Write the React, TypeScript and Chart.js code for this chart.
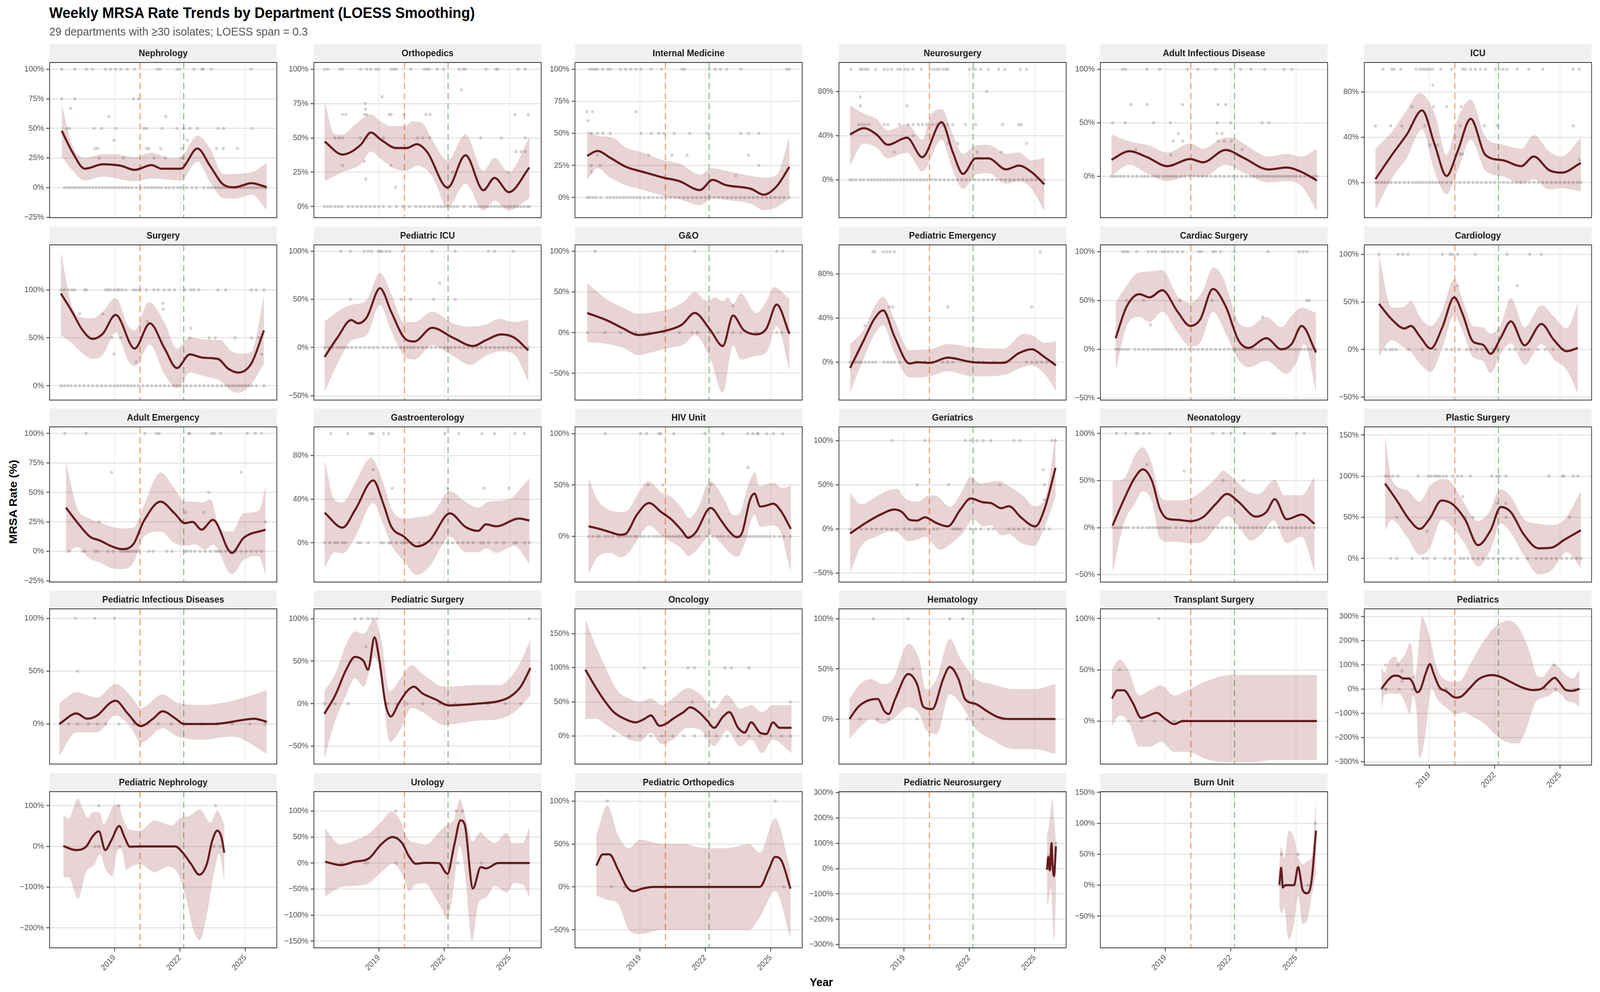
import React, { useEffect, useRef, useState } from "react";
import { Chart, registerables } from "chart.js";

Chart.register(...registerables);

// ---------------- DATA ----------------
const DEPARTMENTS = [
  "Nephrology", "Orthopedics", "Internal Medicine", "Neurosurgery", "Adult Infectious Disease", "ICU",
  "Surgery", "Pediatric ICU", "G&O", "Pediatric Emergency", "Cardiac Surgery", "Cardiology",
  "Adult Emergency", "Gastroenterology", "HIV Unit", "Geriatrics", "Neonatology", "Plastic Surgery",
  "Pediatric Infectious Diseases", "Pediatric Surgery", "Oncology", "Hematology", "Transplant Surgery", "Pediatrics",
  "Pediatric Nephrology", "Urology", "Pediatric Orthopedics", "Pediatric Neurosurgery", "Burn Unit",
];

const X_RANGE = [2016.02, 2026.44];
const X_TICKS = [2019, 2022, 2025];
const EVENT_LINES = [2020.17, 2022.17];

const Y_RANGE = [
  [-25.4, 105.7], [-8.1, 104.9], [-15.7, 105.3], [-34.3, 106.2], [-38.7, 106.4], [-31.2, 106],
  [-14.9, 146.9], [-54.6, 106.7], [-83, 108], [-34.3, 106.2], [-51.9, 106.9], [-53.1, 109.9],
  [-26.1, 105.6], [-36, 106.2], [-44.4, 106.6], [-60.1, 115.5], [-57.8, 107], [-28.7, 159.9],
  [-38, 109], [-71, 111.5], [-41, 186], [-45, 110], [-42, 109.5], [-313.5, 331.6],
  [-249, 134.4], [-162.9, 137.2], [-71, 111], [-313, 304], [-101.2, 151.2],
];

const Y_TICKS = [
  [-25, 0, 25, 50, 75, 100], [0, 25, 50, 75, 100], [0, 25, 50, 75, 100], [0, 40, 80], [0, 50, 100], [0, 40, 80],
  [0, 50, 100], [-50, 0, 50, 100], [-50, 0, 50, 100], [0, 40, 80], [-50, 0, 50, 100], [-50, 0, 50, 100],
  [-25, 0, 25, 50, 75, 100], [0, 40, 80], [0, 50, 100], [-50, 0, 50, 100], [-50, 0, 50, 100], [0, 50, 100, 150],
  [0, 50, 100], [-50, 0, 50, 100], [0, 50, 100, 150], [0, 50, 100], [0, 50, 100], [-300, -200, -100, 0, 100, 200, 300],
  [-200, -100, 0, 100], [-150, -100, -50, 0, 50, 100], [-50, 0, 50, 100], [-300, -200, -100, 0, 100, 200, 300], [-50, 0, 50, 100, 150],
];

const FIT = [
  [[2016.58,48],[2017.05,30.5],[2017.64,16],[2018.46,19.7],[2019.28,18.5],[2019.92,15],[2020.69,19],[2021.16,16],[2022.03,16],[2022.80,33],[2023.39,18],[2023.98,2.7],[2024.52,0.3],[2025.27,3.8],[2025.97,0.5]],
  [[2016.51,47.3],[2017.33,37.9],[2018.16,44.9],[2018.63,53.9],[2019.09,48.7],[2019.80,42.6],[2020.27,42.6],[2020.74,45.4],[2021.21,39.8],[2022.15,13.8],[2022.97,37.4],[2023.79,11.9],[2024.30,20.9],[2024.96,10.5],[2025.90,28.4]],
  [[2016.58,32.5],[2017.05,36.3],[2017.64,31],[2018.34,24.1],[2019.16,19.9],[2020.10,15.4],[2020.81,12.8],[2021.75,5.8],[2022.33,13.8],[2022.92,9.8],[2024.09,6.8],[2024.68,2.2],[2025.27,8.8],[2025.85,23.9]],
  [[2016.53,41.1],[2017.16,46.7],[2017.74,41.1],[2018.26,31.7],[2019.14,38.1],[2019.84,20.5],[2020.73,52.2],[2021.24,25],[2021.71,5.3],[2022.29,19.4],[2022.87,19.4],[2023.69,9.4],[2024.27,12.9],[2024.85,7],[2025.44,-4.1]],
  [[2016.53,15.5],[2017.35,23.4],[2018.16,17.9],[2019.09,9.5],[2020.14,16.1],[2020.72,13.1],[2021.77,24.6],[2022.58,17.3],[2023.74,6.4],[2024.56,8.2],[2025.25,4],[2025.95,-3.9]],
  [[2016.53,2.9],[2017.28,24.1],[2017.97,42.4],[2018.67,63.6],[2019.25,33.2],[2019.79,5.7],[2020.30,27.5],[2020.90,56.2],[2021.58,24.1],[2022.39,19.5],[2023.21,14.3],[2023.79,22.9],[2024.49,10.9],[2025.07,8.6],[2025.95,17.2]],
  [[2016.54,96.2],[2017.05,77.3],[2017.52,58.4],[2017.99,48.9],[2018.46,54.3],[2019.05,73.9],[2019.92,38.8],[2020.62,65.1],[2021.28,39.5],[2021.86,18.5],[2022.45,32.7],[2023.04,29.3],[2023.74,28],[2024.21,17.8],[2024.68,13.8],[2025.27,23.2],[2025.85,57.7]],
  [[2016.51,-9.8],[2017.10,10.4],[2017.73,28.6],[2018.04,25.2],[2018.44,31.3],[2019.05,61.6],[2019.56,37.3],[2020.15,10.4],[2020.62,6.3],[2021.44,20.5],[2022.38,10.4],[2023.32,1.6],[2023.91,7.7],[2024.61,13.7],[2025.20,10.4],[2025.85,-3]],
  [[2016.58,24.2],[2017.52,14.7],[2018.23,5.1],[2018.93,-2.9],[2019.63,-0.5],[2020.34,3.5],[2020.93,9.9],[2021.51,24.2],[2022.22,3.5],[2022.80,-16.4],[2023.27,21.1],[2023.74,3.5],[2024.33,-2.1],[2024.80,5.1],[2025.27,34.6],[2025.85,-1.3]],
  [[2016.53,-5.3],[2017.16,19.9],[2017.63,38.7],[2018.05,46.9],[2018.56,23.5],[2019.26,-1.2],[2019.61,0],[2020.19,-0.6],[2021.01,4.1],[2022.17,0],[2023.57,-0.6],[2024.27,8.2],[2024.85,11.7],[2025.44,4.7],[2025.97,-2.9]],
  [[2016.72,11.4],[2017.23,43.9],[2017.81,56.5],[2018.28,53.2],[2018.86,60.5],[2019.56,38.6],[2020.14,24],[2020.60,30.6],[2021.18,61.8],[2021.77,43.9],[2022.35,9.4],[2022.81,1.5],[2023.63,11.4],[2024.32,0.1],[2024.79,5.4],[2025.25,24],[2025.91,-3.2]],
  [[2016.69,48],[2017.28,31.6],[2017.86,22.1],[2018.16,24.8],[2018.56,13.9],[2019.07,1],[2019.60,23.4],[2020.14,54.8],[2020.53,37.1],[2021.00,8.4],[2021.46,5],[2021.81,-4.5],[2022.28,12.5],[2022.74,29.6],[2023.37,4.4],[2024.14,26.8],[2024.72,9.8],[2025.30,-1.8],[2025.81,1.6]],
  [[2016.77,37.1],[2017.29,24.5],[2017.87,12.4],[2018.34,9.1],[2018.81,4.7],[2019.33,1.9],[2019.87,6.3],[2020.34,25.6],[2021.11,42.1],[2021.75,32.2],[2022.22,23.9],[2022.57,25],[2022.99,18.4],[2023.51,26.7],[2024.38,-1.4],[2024.91,11.3],[2025.92,18.4]],
  [[2016.51,27.5],[2017.33,13.9],[2017.92,30.5],[2018.74,57.2],[2019.21,35.3],[2019.56,15.1],[2020.15,5.6],[2020.74,-3.3],[2021.32,2],[2022.26,26.9],[2022.97,14.5],[2023.55,10.9],[2023.91,16.9],[2024.38,15.1],[2025.43,22.2],[2025.90,20.4]],
  [[2016.64,9.9],[2017.15,7.3],[2017.66,4],[2018.09,1.6],[2018.35,2.6],[2018.86,21.2],[2019.42,32.5],[2019.97,23.8],[2020.44,16.6],[2020.91,6],[2021.21,-1.3],[2021.56,4],[2022.24,27.8],[2022.75,14.6],[2023.05,6],[2023.44,-0.7],[2023.69,4],[2024.04,35.1],[2024.25,41.7],[2024.51,29.1],[2024.76,29.8],[2025.11,31.8],[2025.45,25.2],[2025.92,7.3]],
  [[2016.53,-5.1],[2017.28,7.3],[2017.98,16.9],[2018.56,22],[2018.91,19.1],[2019.26,10.3],[2019.61,9.5],[2019.96,13.2],[2020.50,6.6],[2021.01,2.9],[2021.59,22],[2022.06,34.5],[2022.64,30.1],[2022.99,29.3],[2023.46,23.5],[2023.81,25.7],[2024.39,12.5],[2025.02,2.9],[2025.44,22],[2025.95,69.2]],
  [[2016.58,2.1],[2017.11,30.3],[2017.58,52.3],[2017.97,61.9],[2018.39,49.5],[2018.74,20.6],[2019.09,9.6],[2019.56,8.3],[2020.14,6.9],[2020.72,11],[2021.30,24.8],[2021.83,35.8],[2022.35,27.5],[2023.16,11.7],[2023.63,16.5],[2024.02,30.3],[2024.56,8.9],[2025.25,13.8],[2025.84,4.1]],
  [[2016.97,91],[2017.51,70.5],[2018.09,46.9],[2018.56,35.9],[2019.02,48.5],[2019.56,70.5],[2020.07,65.8],[2020.65,46.9],[2021.23,16.2],[2021.81,34.3],[2022.28,62.6],[2022.74,56.3],[2023.32,29.6],[2024.02,12.3],[2024.60,13.1],[2025.18,22.5],[2025.95,34.3]],
  [[2016.47,0],[2017.26,10],[2017.73,5],[2018.2,8],[2018.8,20],[2019.05,22],[2019.6,10],[2020.2,-2],[2020.77,5],[2021.2,12],[2021.8,5],[2022.17,0],[2023.56,0],[2024.96,4],[2025.4,5],[2025.98,2]],
  [[2016.5,-12],[2017.0,10],[2017.5,40],[2017.9,55],[2018.3,50],[2018.5,40],[2018.8,78],[2019.0,55],[2019.3,0],[2019.55,-15],[2019.9,0],[2020.3,15],[2020.6,20],[2021.0,12],[2021.6,5],[2022.2,-2],[2023.5,0],[2024.5,3],[2025.0,8],[2025.5,20],[2025.95,42]],
  [[2016.5,97],[2016.9,75],[2017.3,55],[2017.8,35],[2018.3,25],[2018.8,20],[2019.2,25],[2019.5,30],[2019.9,15],[2020.2,18],[2020.5,25],[2021.0,35],[2021.3,42],[2021.7,35],[2022.1,22],[2022.4,12],[2022.8,28],[2023.1,35],[2023.5,12],[2023.8,5],[2024.1,20],[2024.5,5],[2024.8,3],[2025.1,20],[2025.4,12],[2025.95,12]],
  [[2016.5,0],[2016.9,12],[2017.3,18],[2017.8,20],[2018.1,8],[2018.3,5],[2018.6,20],[2019.2,45],[2019.6,35],[2019.9,12],[2020.3,10],[2020.8,40],[2021.1,52],[2021.5,40],[2021.8,20],[2022.3,15],[2022.8,8],[2023.3,2],[2023.8,0],[2025.95,0]],
  [[2016.55,22],[2016.8,30],[2017.1,30],[2017.5,18],[2017.9,3],[2018.2,5],[2018.6,8],[2019.0,2],[2019.4,-3],[2019.8,0],[2025.95,0]],
  [[2016.81,1.7],[2017.12,38.4],[2017.38,55.4],[2017.55,55.4],[2017.81,44],[2018.07,44],[2018.24,27.1],[2018.44,-12.4],[2018.58,-4],[2018.84,66.7],[2019.03,103.4],[2019.19,66.7],[2019.45,10.2],[2019.79,-9.6],[2020.22,-35],[2020.48,-29.4],[2020.83,1.7],[2021.26,41.2],[2021.86,58.2],[2022.30,49.7],[2022.73,29.9],[2023.25,7.3],[2023.76,-4],[2024.20,4.5],[2024.45,27.1],[2024.76,46.9],[2024.97,27.1],[2025.27,-4],[2025.58,-6.8],[2025.88,1.7]],
  [[2016.65,1],[2017.21,-8.9],[2017.69,-0.7],[2018.01,25.6],[2018.28,37],[2018.57,-8.9],[2018.86,15.7],[2019.21,50.2],[2019.46,22.3],[2019.70,-0.7],[2020.18,0],[2021.78,0],[2022.10,-13.8],[2022.51,-43.3],[2022.88,-69.5],[2023.23,-43.3],[2023.47,12.5],[2023.71,38.7],[2023.90,22.3],[2024.03,-15.4]],
  [[2016.53,2.6],[2017.25,-3.9],[2017.88,2.6],[2018.54,9],[2019.10,35.9],[2019.63,50],[2020.06,38.5],[2020.38,12.8],[2020.70,-1.3],[2021.10,0.5],[2021.74,0],[2022.14,-20.5],[2022.46,35.9],[2022.74,82.1],[2022.94,73.2],[2023.31,-48.8],[2023.67,-7.7],[2023.91,-10.3],[2024.47,0],[2025.91,0]],
  [[2017.0,25],[2017.3,38],[2017.6,38],[2018.0,20],[2018.4,0],[2018.7,-5],[2019.1,-2],[2019.6,0],[2024.5,0],[2024.9,20],[2025.2,35],[2025.5,30],[2025.9,-2]],
  [[2025.56,-3.5],[2025.62,45.6],[2025.69,-6.3],[2025.77,100.4],[2025.81,22.5],[2025.88,-29.4],[2025.97,88.9]],
  [[2024.23,1.2],[2024.31,28.2],[2024.39,-3.5],[2024.50,0],[2024.90,0],[2025.09,29.4],[2025.30,-8.2],[2025.51,-12.9],[2025.70,5.9],[2025.91,88.2]],
];

const UPPER = [
  [[2016.58,70],[2017.05,36],[2017.64,25],[2018.10,27],[2018.46,28.4],[2019.16,28],[2019.92,25.7],[2020.69,29.5],[2021.51,25],[2022.03,26],[2022.80,44],[2023.39,32.8],[2023.98,11.4],[2025.27,13],[2025.97,20.8]],
  [[2016.51,76.6],[2016.98,52.5],[2017.33,52.5],[2017.92,60],[2018.63,67.1],[2019.09,61.9],[2019.56,58.6],[2020.27,59.1],[2020.50,62],[2020.97,61],[2021.44,48.7],[2022.15,33.6],[2022.97,52.5],[2023.79,26],[2024.30,35.5],[2024.96,25.1],[2025.90,50.6]],
  [[2016.58,52.2],[2017.05,48.2],[2017.76,46.7],[2018.34,39.1],[2019.16,35],[2020.10,29],[2020.81,26.5],[2021.75,17.9],[2022.33,22.9],[2022.92,20.9],[2024.09,16.9],[2024.68,15.4],[2025.27,17.9],[2025.85,47.2]],
  [[2016.53,67.4],[2017.16,59.8],[2017.74,55.1],[2018.26,44.6],[2019.14,50.4],[2019.84,36.4],[2020.26,59.8],[2020.73,63.9],[2021.24,41.1],[2021.71,23.5],[2022.29,31.1],[2022.87,31.7],[2023.69,23.5],[2024.27,24.6],[2024.85,17.6],[2025.44,20]],
  [[2016.53,39.2],[2017.46,31.9],[2018.16,29.5],[2019.09,22.2],[2020.14,30.7],[2020.72,25.8],[2021.77,36.1],[2022.11,36.1],[2022.58,30.7],[2023.74,18.5],[2024.56,21],[2025.25,18.5],[2025.95,25.8]],
  [[2016.53,29.8],[2017.28,44.7],[2017.97,64.2],[2018.56,79.1],[2019.25,60.7],[2019.79,24.1],[2020.30,56.2],[2020.90,73.4],[2021.58,40.1],[2022.39,33.2],[2023.21,29.8],[2023.79,41.8],[2024.49,27.5],[2025.07,22.9],[2025.95,39.5]],
  [[2016.54,139.5],[2017.05,82.7],[2017.52,71.2],[2017.99,70.5],[2018.46,77.3],[2019.05,91.5],[2019.63,62.4],[2019.92,57.7],[2020.57,87.4],[2021.28,66.5],[2021.86,38.8],[2022.45,50.3],[2023.15,48.2],[2023.86,47.6],[2024.33,36.8],[2024.80,33.4],[2025.27,35.4],[2025.85,93.5]],
  [[2016.51,27.2],[2017.10,37.3],[2017.69,44.1],[2018.44,49.5],[2019.05,77.8],[2019.56,56.2],[2020.15,26.5],[2020.62,26.5],[2021.44,37.3],[2022.38,25.2],[2023.08,21.8],[2023.91,23.9],[2024.49,29.9],[2025.20,26.5],[2025.85,29.2]],
  [[2016.58,60.9],[2017.52,40.2],[2018.23,30.6],[2018.93,23.4],[2019.63,25],[2020.34,29],[2021.04,38.6],[2021.51,49.8],[2022.10,38.6],[2022.45,43.4],[2022.80,38.6],[2023.04,43.4],[2023.27,35.4],[2023.62,48.2],[2024.33,24.2],[2024.80,38.6],[2025.15,56.1],[2025.85,41.8]],
  [[2016.53,16.4],[2017.16,29.3],[2017.63,49.3],[2018.05,59.2],[2018.56,38.7],[2019.26,11.1],[2020.19,11.7],[2021.01,16.4],[2022.17,13.5],[2023.57,12.3],[2024.50,25.8],[2024.97,23.5],[2025.44,17.6],[2025.97,18.8]],
  [[2016.72,47.9],[2017.23,65.1],[2017.69,77.7],[2018.28,79.7],[2018.86,81],[2019.56,54.5],[2020.14,47.9],[2020.72,59.8],[2021.18,83.7],[2021.65,73.1],[2022.35,28],[2022.81,22.7],[2023.63,33.3],[2024.32,22.7],[2024.79,34.6],[2025.25,42.6],[2025.91,37.3]],
  [[2016.69,99.7],[2017.28,43.9],[2017.86,45.2],[2018.16,50.7],[2018.56,34.3],[2019.07,24.8],[2019.60,41.1],[2020.14,73.8],[2020.53,52],[2021.00,24.8],[2021.46,23.4],[2021.81,16.6],[2022.28,26.2],[2022.74,54.1],[2023.37,23.4],[2024.14,46.6],[2024.72,34.3],[2025.30,22.1],[2025.81,48.6]],
  [[2016.77,76.1],[2017.29,36.6],[2017.87,27.8],[2018.34,24.5],[2018.81,21.2],[2019.33,19.5],[2019.87,20.1],[2020.34,38.8],[2021.11,66.8],[2021.75,53.1],[2022.22,42.1],[2022.57,42.1],[2023.04,41.5],[2023.39,44.3],[2023.86,17.9],[2024.38,16.8],[2024.91,32.2],[2025.62,34.4],[2025.92,55.3]],
  [[2016.51,75.6],[2016.98,38.8],[2017.33,37],[2017.92,55.4],[2018.63,78],[2019.21,54.2],[2019.56,31.7],[2020.15,22.2],[2020.74,23.4],[2021.44,26.9],[2022.26,47.1],[2022.97,37.6],[2023.55,32.3],[2024.02,37.6],[2024.96,40],[2025.90,59]],
  [[2016.64,57],[2016.98,38.4],[2017.32,29.1],[2018.09,23.8],[2018.43,25.2],[2018.86,39.7],[2019.37,53.6],[2019.97,43],[2020.44,38.4],[2020.91,27.8],[2021.26,17.9],[2021.60,25.2],[2022.24,53.6],[2022.80,38.4],[2023.31,20.5],[2023.57,22.5],[2023.99,51.7],[2024.29,62.3],[2024.46,49],[2025.11,52.3],[2025.53,47],[2025.92,49.7]],
  [[2016.53,40.3],[2017.05,27.9],[2017.74,36.7],[2018.33,44],[2018.68,45.5],[2019.03,35.2],[2019.61,30.8],[2020.19,38.1],[2020.54,36.7],[2021.12,24.9],[2021.59,39.6],[2022.06,58.7],[2022.52,51.3],[2022.87,52.8],[2023.34,54.3],[2023.81,48.4],[2024.50,36.7],[2024.97,25.7],[2025.44,32.3],[2025.95,105.6]],
  [[2016.58,49.5],[2017.11,52.3],[2017.58,75.7],[2017.97,85.3],[2018.39,67.4],[2018.74,34.4],[2019.09,28.9],[2019.56,28.9],[2020.14,30.9],[2020.72,39.9],[2021.30,52.3],[2021.65,60.5],[2022.11,52.3],[2022.81,38.5],[2023.28,35.8],[2024.02,50.9],[2024.44,34.4],[2025.25,34.4],[2025.84,54.3]],
  [[2016.97,149.2],[2017.28,95.7],[2017.97,83.1],[2018.56,68.9],[2019.02,87.8],[2019.60,96.5],[2019.95,94.1],[2020.53,70.5],[2021.23,45.3],[2021.70,54.8],[2022.28,83.9],[2022.74,75.2],[2023.32,48.5],[2024.02,42.2],[2024.60,40.6],[2025.18,46.9],[2025.95,81.5]],
  [[2016.47,20],[2017.26,30],[2018.2,25],[2019.05,38],[2019.8,25],[2020.2,15],[2021.2,28],[2021.9,20],[2023.0,18],[2024.4,22],[2025.98,32]],
  [[2016.5,15],[2017.0,35],[2017.5,70],[2017.9,85],[2018.3,82],[2018.8,100],[2019.1,75],[2019.5,15],[2020.0,30],[2020.5,45],[2021.0,35],[2022.0,20],[2023.5,22],[2024.5,22],[2025.3,40],[2025.95,75]],
  [[2016.5,170],[2017.0,130],[2017.5,95],[2018.0,65],[2018.5,55],[2019.0,50],[2019.5,55],[2020.0,45],[2020.5,55],[2021.2,70],[2021.8,60],[2022.4,40],[2023.0,60],[2023.6,40],[2024.1,45],[2024.6,35],[2025.1,45],[2025.95,45]],
  [[2016.5,20],[2017.0,35],[2017.5,40],[2018.0,35],[2018.5,40],[2019.2,75],[2019.7,60],[2020.0,30],[2020.5,40],[2021.1,80],[2021.6,60],[2022.3,40],[2023.0,35],[2024.0,30],[2025.0,30],[2025.95,35]],
  [[2016.55,50],[2016.9,60],[2017.3,50],[2017.8,25],[2018.3,30],[2018.8,35],[2019.4,25],[2020.0,30],[2021.0,40],[2022.0,45],[2023.0,45],[2024.0,45],[2025.95,45]],
  [[2016.81,86.4],[2016.94,69.5],[2017.16,117.5],[2017.46,134.5],[2017.59,111.9],[2017.76,128.8],[2017.94,151.4],[2018.09,191],[2018.20,168.4],[2018.32,38.4],[2018.45,111.9],[2018.67,298.3],[2018.84,270],[2019.06,202.2],[2019.27,111.9],[2019.62,46.9],[2020.22,29.9],[2020.48,38.4],[2020.83,94.9],[2021.43,191],[2022.04,258.8],[2022.64,284.2],[2023.07,258.8],[2023.59,157.1],[2023.94,55.4],[2024.20,49.7],[2024.45,78],[2024.71,103.4],[2024.89,94.9],[2025.23,61],[2025.58,44],[2025.88,80.8]],
  [[2016.65,76.4],[2016.89,68.2],[2017.32,117.4],[2017.53,94.4],[2017.77,69.8],[2018.01,84.6],[2018.33,83],[2018.49,55.1],[2018.73,74.8],[2018.97,101],[2019.18,102.6],[2019.38,68.2],[2019.70,40.3],[2020.18,38.7],[2020.82,63.3],[2021.62,51.8],[2022.02,69.8],[2022.43,74.8],[2022.91,91.1],[2023.39,58.4],[2023.71,87.9],[2024.03,53.4]],
  [[2016.53,65.5],[2017.25,35.9],[2017.90,43.6],[2018.54,56.5],[2019.10,79.6],[2019.58,98.9],[2019.98,82.1],[2020.30,48.8],[2020.78,38.5],[2021.18,35.9],[2021.74,59],[2022.14,74.4],[2022.46,84.7],[2022.70,123.2],[2023.02,79.6],[2023.27,41.1],[2023.67,59],[2023.91,48.8],[2024.31,38.5],[2024.87,57.8],[2025.11,38.5],[2025.59,38.5],[2025.91,69.3]],
  [[2017.0,60],[2017.5,95],[2018.0,60],[2018.5,45],[2019.0,55],[2020.0,50],[2021.0,50],[2022.0,45],[2023.0,45],[2024.0,50],[2024.5,40],[2025.2,80],[2025.9,20]],
  [[2025.56,132],[2025.65,167],[2025.75,248],[2025.81,276],[2025.88,201],[2025.97,103]],
  [[2024.23,34.1],[2024.31,62.4],[2024.45,43.5],[2024.66,88.2],[2024.90,76.5],[2025.09,45.9],[2025.30,34.1],[2025.51,38.8],[2025.70,45.9],[2025.91,137.6]],
];

const LOWER = [
  [[2016.58,26],[2017.05,15],[2017.64,6],[2018.46,9.3],[2019.92,5.4],[2020.69,7.6],[2022.03,6],[2022.80,22],[2023.39,4.3],[2023.98,-8.8],[2024.52,-9.4],[2025.27,-6],[2025.97,-18.7]],
  [[2016.51,18.5],[2017.33,25.1],[2018.16,30.8],[2018.63,40.2],[2019.09,34.6],[2019.80,27],[2020.27,26],[2020.74,29.8],[2021.44,22.3],[2022.15,-0.4],[2022.97,16.6],[2023.79,-2.8],[2024.30,4.3],[2024.96,-2.8],[2025.90,6.2]],
  [[2016.58,13.8],[2017.05,22.9],[2017.64,15.4],[2018.34,9.8],[2019.16,5.8],[2020.10,1.2],[2020.81,-1.3],[2021.75,-5.9],[2022.33,-0.3],[2022.92,-1.8],[2024.09,-4.8],[2024.68,-9.9],[2025.27,-7.4],[2025.85,-0.8]],
  [[2016.53,12.9],[2017.16,32.8],[2017.74,29.3],[2018.26,19.4],[2019.14,24.6],[2019.84,7.6],[2020.73,36.4],[2021.24,8.2],[2021.71,-8.2],[2022.29,4.7],[2022.87,5.9],[2023.69,-3.5],[2024.27,-1.2],[2024.85,-8.2],[2025.44,-28.2]],
  [[2016.53,0.4],[2017.35,10.7],[2018.16,2.8],[2019.09,-4.5],[2020.14,0.4],[2020.72,-0.8],[2021.77,10.7],[2022.58,3.4],[2023.74,-5.7],[2024.56,-4.5],[2025.25,-9.3],[2025.95,-32.4]],
  [[2016.53,-24.6],[2017.28,3.4],[2017.97,21.8],[2018.67,47],[2019.25,9.2],[2019.79,-10.3],[2020.30,10.3],[2020.90,37.8],[2021.58,10.3],[2022.39,5.2],[2023.21,-1.1],[2023.79,2.9],[2024.49,-6.3],[2025.07,-5.2],[2025.95,-8]],
  [[2016.54,53],[2017.05,44.2],[2017.52,34.1],[2017.99,28],[2018.46,32],[2019.05,55.7],[2019.63,25.9],[2019.92,20.5],[2020.62,42.8],[2021.28,12.4],[2021.86,-2.4],[2022.45,13.8],[2023.15,9.7],[2023.86,5],[2024.33,-5.1],[2024.68,-7.2],[2025.27,1.6],[2025.85,23.2]],
  [[2016.51,-46.2],[2017.10,-16.6],[2017.73,7],[2018.44,13.1],[2019.05,44.1],[2019.56,17.1],[2020.15,-8.5],[2020.62,-12.5],[2021.44,2.4],[2022.38,-8.5],[2023.20,-17.9],[2023.91,-8.5],[2024.61,-3.8],[2025.20,-7.1],[2025.85,-35.4]],
  [[2016.58,-11.6],[2017.52,-14],[2018.23,-18.8],[2018.93,-27.6],[2019.63,-23.6],[2020.34,-18.8],[2021.04,-14],[2021.51,-2.9],[2022.22,-31.6],[2022.80,-73.8],[2023.27,-15.6],[2023.62,-33.2],[2024.33,-28.4],[2024.80,-24.4],[2025.27,8.3],[2025.85,-45.1]],
  [[2016.53,-27.6],[2017.16,3.5],[2017.63,24.6],[2018.05,33.4],[2018.56,8.2],[2019.26,-14.1],[2020.19,-12.9],[2021.01,-8.2],[2022.17,-12.9],[2023.57,-11.7],[2024.27,-5.9],[2024.85,-2.9],[2025.44,-10.6],[2025.97,-25.8]],
  [[2016.72,-22.4],[2017.23,24],[2017.81,33.3],[2018.28,28],[2018.86,38.6],[2019.56,17.4],[2020.14,2.8],[2020.60,6.8],[2021.18,38.6],[2021.77,16],[2022.35,-10.5],[2022.81,-18.4],[2023.63,-11.8],[2024.56,-25.1],[2025.02,-13.1],[2025.37,5.4],[2025.91,-43.6]],
  [[2016.69,-7.2],[2017.28,9.8],[2017.86,1.6],[2018.16,-2.5],[2018.56,-14.7],[2019.07,-23.6],[2019.60,1.6],[2020.14,35.7],[2020.53,19.3],[2021.00,-7.9],[2021.46,-12],[2021.81,-24.9],[2022.28,-3.8],[2022.74,6.4],[2023.37,-16.1],[2024.14,5.7],[2024.72,-10.6],[2025.30,-21.5],[2025.81,-46.3]],
  [[2016.77,-1.9],[2017.29,3.6],[2017.87,-6.3],[2018.34,-9.6],[2018.81,-14],[2019.33,-15.1],[2019.87,-9.6],[2020.34,12.4],[2021.11,16.8],[2021.75,6.9],[2022.22,4.7],[2022.69,5.8],[2023.15,1.4],[2023.51,5.8],[2024.38,-19.5],[2024.91,-7.4],[2025.62,-4.1],[2025.92,-20.6]],
  [[2016.51,-22.9],[2016.98,-8.7],[2017.33,-9.8],[2017.92,5.6],[2018.74,36.4],[2019.21,16.3],[2019.56,-1.5],[2020.15,-16.9],[2020.74,-29.4],[2021.32,-21.7],[2022.26,5.6],[2022.97,-8.7],[2023.55,-8.7],[2023.91,-5.1],[2024.38,-9.3],[2025.20,-2.7],[2025.90,-19.3]],
  [[2016.64,-36.4],[2017.06,-19.9],[2017.66,-15.9],[2018.09,-20.5],[2018.43,-17.2],[2018.86,-4],[2019.42,10.6],[2019.97,1.3],[2020.44,-5.3],[2020.91,-11.9],[2021.21,-19.2],[2021.60,-13.2],[2022.24,1.3],[2022.75,-7.3],[2023.05,-14.6],[2023.48,-19.9],[2023.78,-7.9],[2024.25,21.2],[2024.51,9.3],[2025.02,10.6],[2025.36,7.9],[2025.92,-35.8]],
  [[2016.53,-49.9],[2017.05,-19.1],[2017.74,-8.8],[2018.33,-2.9],[2018.68,-3.7],[2019.19,-13.9],[2019.66,-11.7],[2019.96,-8.8],[2020.66,-23.5],[2021.24,-14.7],[2021.71,-4.4],[2022.17,11],[2022.64,2.9],[2022.99,4.4],[2023.46,-7.3],[2023.81,-5.9],[2024.39,-16.1],[2024.97,-19.1],[2025.44,1.5],[2025.95,36.7]],
  [[2016.58,-48.1],[2017.11,5.5],[2017.58,24.8],[2017.97,38.5],[2018.39,27.5],[2018.74,-11],[2019.09,-15.1],[2019.56,-15.1],[2020.14,-16.5],[2020.72,-15.1],[2021.30,0],[2021.88,12.4],[2022.35,1.4],[2022.93,-13.8],[2023.39,-6.9],[2023.97,7.6],[2024.56,-16.5],[2025.25,-9.6],[2025.84,-47.5]],
  [[2016.97,34.3],[2017.28,46.9],[2017.97,26.4],[2018.56,4.3],[2019.02,12.3],[2019.56,46.9],[2020.07,37.4],[2020.65,17],[2021.23,-9.8],[2021.81,10.7],[2022.28,42.2],[2022.74,31.2],[2023.32,4.3],[2024.02,-19.3],[2024.60,-14.5],[2025.30,7.5],[2025.95,-12.1]],
  [[2016.47,-30],[2017.26,-8],[2018.2,-8],[2019.05,8],[2019.8,-5],[2020.2,-18],[2021.2,-4],[2021.9,-12],[2023.0,-15],[2024.4,-12],[2025.98,-28]],
  [[2016.5,-65],[2017.0,-20],[2017.5,10],[2017.9,30],[2018.3,20],[2018.8,55],[2019.1,30],[2019.5,-45],[2020.0,-30],[2020.5,-5],[2021.0,-10],[2022.0,-25],[2023.5,-20],[2024.5,-18],[2025.3,-8],[2025.95,10]],
  [[2016.5,25],[2017.0,25],[2017.5,15],[2018.0,5],[2018.5,-5],[2019.0,-8],[2019.5,5],[2020.0,-12],[2020.5,-5],[2021.2,12],[2021.8,8],[2022.4,-15],[2023.0,8],[2023.6,-15],[2024.1,-5],[2024.6,-25],[2025.1,-5],[2025.95,-25]],
  [[2016.5,-20],[2017.0,-8],[2017.5,0],[2018.0,-5],[2018.5,0],[2019.2,12],[2019.7,5],[2020.0,-10],[2020.5,-15],[2021.1,25],[2021.6,15],[2022.3,-10],[2023.0,-20],[2024.0,-30],[2025.0,-30],[2025.95,-35]],
  [[2016.55,-5],[2016.9,5],[2017.3,0],[2017.8,-25],[2018.3,-25],[2018.8,-20],[2019.4,-30],[2020.0,-30],[2021.0,-38],[2022.0,-40],[2023.0,-40],[2024.0,-38],[2025.95,-38]],
  [[2016.81,-83],[2016.94,-23.7],[2017.29,-18.1],[2017.46,-20.9],[2017.63,-18.1],[2017.89,-57.6],[2018.11,-102.8],[2018.24,-29.4],[2018.41,-85.9],[2018.54,-283.6],[2018.67,-261],[2018.84,-170.6],[2019.10,4.5],[2019.36,-40.7],[2019.79,-77.4],[2020.22,-102.8],[2020.57,-94.4],[2021.00,-114.1],[2021.52,-142.4],[2022.04,-187.6],[2022.64,-221.5],[2023.07,-224.3],[2023.42,-170.6],[2023.85,-57.6],[2024.20,-35],[2024.45,-29.4],[2024.76,-9.6],[2025.06,-23.7],[2025.32,-49.2],[2025.66,-57.6],[2025.88,-74.6]],
  [[2016.65,-76.1],[2016.89,-76],[2017.32,-128.5],[2017.69,-63],[2018.09,-43.3],[2018.33,-18.7],[2018.57,-53.4],[2018.89,-73],[2019.13,-10.5],[2019.30,-5.6],[2019.54,-56.4],[2019.86,-46.6],[2020.18,-43.3],[2020.82,-63],[2021.46,-49.8],[2021.94,-69.5],[2022.27,-125.2],[2022.59,-200.7],[2022.91,-230.2],[2023.23,-167.9],[2023.55,-69.5],[2023.79,-17],[2024.03,-85.9]],
  [[2016.53,-64.2],[2017.25,-46.2],[2017.90,-43.6],[2018.54,-38.5],[2019.10,-18],[2019.66,-1.3],[2020.14,-28.2],[2020.38,-53.9],[2020.70,-41.1],[2021.10,-38.5],[2021.58,-66.7],[2021.90,-89.8],[2022.14,-107.8],[2022.38,-61.6],[2022.70,33.4],[2022.94,-18],[2023.27,-148.9],[2023.59,-74.4],[2023.91,-66.7],[2024.31,-43.6],[2024.87,-56.5],[2025.19,-38.5],[2025.59,-41.1],[2025.91,-66.7]],
  [[2017.0,-10],[2017.5,-15],[2018.0,-20],[2018.5,-50],[2019.0,-55],[2020.0,-50],[2021.0,-50],[2022.0,-50],[2023.0,-50],[2024.0,-50],[2024.5,-35],[2025.2,-5],[2025.9,-60]],
  [[2025.56,-145],[2025.62,-133],[2025.75,-76],[2025.81,-185],[2025.88,-283],[2025.97,-99]],
  [[2024.23,-36.5],[2024.34,-45.9],[2024.45,-36.5],[2024.66,-88.2],[2024.90,-62.4],[2025.09,-17.6],[2025.30,-62.4],[2025.51,-55.3],[2025.70,-20],[2025.91,20]],
];

// weekly observations at 0%
const PTS_ZERO = [
  [2016.70,2016.85,2016.98,2017.12,2017.25,2017.40,2017.55,2017.70,2017.85,2018.00,2018.15,2018.30,2018.45,2018.60,2018.75,2018.90,2019.05,2019.20,2019.35,2019.50,2019.65,2019.80,2020.00,2020.20,2020.40,2020.55,2020.70,2020.85,2021.00,2021.15,2021.35,2021.50,2021.70,2021.90,2022.05,2022.30,2022.55,2022.75,2023.10,2023.30,2023.45,2023.60,2023.75,2023.90,2024.05,2024.20,2024.35,2024.50,2024.65,2024.80,2024.95,2025.10,2025.25,2025.40,2025.55,2025.70,2025.85,2025.95],
  [2016.51,2016.65,2016.80,2017.00,2017.15,2017.30,2017.60,2017.80,2018.00,2018.20,2018.40,2018.60,2018.80,2019.00,2019.20,2019.50,2019.80,2020.10,2020.40,2020.70,2020.90,2021.10,2021.30,2021.50,2021.70,2021.85,2022.00,2022.15,2022.30,2022.45,2022.60,2022.90,2023.20,2023.40,2023.55,2023.70,2023.85,2024.00,2024.15,2024.30,2024.45,2024.60,2024.75,2024.90,2025.05,2025.20,2025.35,2025.50,2025.65,2025.80,2025.90],
  [2016.58,2016.70,2016.85,2017.00,2017.20,2017.50,2017.65,2017.80,2017.95,2018.10,2018.25,2018.40,2018.55,2018.70,2018.85,2019.00,2019.20,2019.40,2019.60,2019.80,2020.00,2020.20,2020.40,2020.60,2020.80,2021.00,2021.20,2021.40,2021.60,2021.80,2022.00,2022.20,2022.40,2022.60,2022.80,2023.00,2023.20,2023.40,2023.60,2023.80,2024.00,2024.20,2024.40,2024.60,2024.80,2025.00,2025.20,2025.40,2025.60,2025.85],
  [2016.53,2016.65,2016.80,2017.00,2017.15,2017.35,2017.50,2017.65,2017.80,2017.95,2018.10,2018.25,2018.40,2018.55,2018.70,2018.85,2019.00,2019.15,2019.30,2019.45,2019.60,2019.75,2019.90,2020.05,2020.25,2020.45,2020.65,2020.85,2021.05,2021.25,2021.45,2021.65,2021.85,2022.05,2022.25,2022.45,2022.65,2022.85,2023.05,2023.25,2023.45,2023.65,2023.85,2024.05,2024.25,2024.45,2024.65,2024.85,2025.05,2025.25,2025.44],
  [2016.53,2016.65,2016.80,2016.95,2017.10,2017.30,2017.50,2017.70,2017.90,2018.05,2018.20,2018.40,2018.55,2018.70,2018.90,2019.05,2019.20,2019.35,2019.50,2019.70,2019.90,2020.10,2020.30,2020.50,2020.70,2020.90,2021.10,2021.30,2021.50,2021.70,2021.90,2022.10,2022.30,2022.50,2022.70,2022.90,2023.05,2023.20,2023.35,2023.50,2023.65,2023.80,2023.95,2024.10,2024.25,2024.40,2024.55,2024.70,2024.85,2025.00,2025.20,2025.40,2025.60,2025.80,2025.95],
  [2016.53,2016.65,2016.80,2016.95,2017.10,2017.25,2017.45,2017.65,2017.85,2018.05,2018.25,2018.40,2018.55,2018.70,2018.85,2019.00,2019.15,2019.30,2019.45,2019.60,2019.80,2020.00,2020.20,2020.40,2020.60,2020.80,2021.00,2021.20,2021.40,2021.60,2021.80,2022.00,2022.20,2022.40,2022.60,2022.80,2023.00,2023.20,2023.40,2023.60,2023.80,2024.00,2024.20,2024.40,2024.60,2024.80,2025.00,2025.20,2025.40,2025.60,2025.80,2025.95],
  [2016.54,2016.70,2016.85,2017.00,2017.20,2017.40,2017.60,2017.80,2018.00,2018.20,2018.40,2018.60,2018.80,2019.00,2019.15,2019.30,2019.45,2019.60,2019.75,2019.90,2020.10,2020.30,2020.50,2020.70,2020.90,2021.10,2021.30,2021.50,2021.70,2021.85,2022.00,2022.15,2022.30,2022.50,2022.70,2022.90,2023.10,2023.30,2023.50,2023.70,2023.90,2024.10,2024.25,2024.40,2024.55,2024.70,2024.85,2025.00,2025.15,2025.30,2025.50,2025.85],
  [2016.51,2016.70,2016.90,2017.10,2017.25,2017.40,2017.55,2017.75,2017.95,2018.15,2018.35,2018.55,2018.75,2018.95,2019.20,2019.40,2019.60,2019.80,2020.00,2020.15,2020.30,2020.45,2020.60,2020.80,2021.00,2021.20,2021.40,2021.60,2021.80,2022.00,2022.15,2022.30,2022.50,2022.70,2022.90,2023.10,2023.30,2023.50,2023.70,2023.90,2024.10,2024.30,2024.50,2024.70,2024.90,2025.10,2025.30,2025.50,2025.70,2025.85],
  [2016.58,2017.40,2018.11,2018.81,2019.40,2020.10,2020.81,2021.39,2021.63,2022.22,2022.57,2023.27,2023.62,2024.33,2025.27,2025.50,2025.85],
  [2016.53,2016.70,2016.81,2016.93,2017.05,2017.23,2017.40,2017.56,2017.70,2018.09,2018.26,2018.40,2018.56,2018.79,2019.61,2019.96,2020.31,2020.78,2021.01,2021.24,2022.17,2022.41,2022.64,2023.11,2023.57,2024.62,2024.85,2025.09,2025.32,2025.55,2025.79],
  [2016.72,2016.85,2017.00,2017.15,2017.30,2017.60,2017.80,2018.00,2018.20,2018.40,2018.55,2018.70,2018.85,2019.00,2019.15,2019.30,2019.50,2019.70,2019.90,2020.10,2020.30,2020.50,2020.70,2020.90,2021.10,2021.30,2021.50,2021.70,2021.90,2022.10,2022.25,2022.40,2022.55,2022.70,2022.85,2023.00,2023.15,2023.30,2023.45,2023.60,2023.75,2023.90,2024.05,2024.20,2024.35,2024.50,2024.65,2024.80,2024.95,2025.10,2025.25,2025.40,2025.55,2025.70,2025.90],
  [2017.00,2017.20,2017.32,2017.48,2018.05,2018.68,2019.28,2019.79,2020.02,2020.37,2020.72,2020.90,2021.18,2021.42,2021.65,2021.93,2022.11,2022.69,2022.92,2023.23,2023.39,2023.55,2023.97,2024.32,2024.67,2025.13],
  [2016.94,2017.52,2017.64,2018.11,2018.23,2018.70,2018.93,2019.28,2019.40,2019.52,2019.63,2019.75,2019.87,2019.99,2020.10,2020.57,2020.76,2021.39,2021.63,2022.22,2022.33,2022.50,2022.69,2022.92,2023.15,2023.39,2023.62,2023.74,2023.86,2024.09,2024.33,2024.56,2024.80,2025.03,2025.27,2025.50,2025.74],
  [2016.51,2016.75,2016.98,2017.10,2017.33,2017.45,2018.04,2018.16,2018.51,2019.09,2019.21,2019.45,2019.56,2019.80,2020.03,2020.15,2020.27,2020.50,2020.85,2021.09,2021.44,2021.68,2021.91,2022.15,2022.38,2022.61,2022.85,2023.08,2023.32,2023.67,2023.79,2024.02,2024.38,2024.73,2025.20,2025.31,2025.67,2025.90],
  [2016.64,2016.85,2017.05,2017.15,2017.40,2017.55,2017.75,2018.00,2018.10,2018.25,2018.40,2018.55,2018.75,2018.85,2019.05,2019.20,2019.40,2019.60,2019.75,2019.90,2020.05,2020.20,2020.35,2020.50,2020.65,2020.80,2020.95,2021.10,2021.25,2021.40,2021.55,2021.70,2022.10,2022.35,2022.55,2022.70,2022.85,2023.05,2023.25,2023.45,2023.60,2023.75,2023.90,2024.05,2024.20,2024.35,2024.50,2024.65,2024.80,2024.95,2025.15,2025.40,2025.60,2025.90],
  [2016.53,2017.05,2017.28,2017.51,2017.74,2017.98,2018.21,2018.44,2018.68,2019.03,2019.26,2019.49,2019.61,2019.73,2019.84,2019.96,2020.36,2020.54,2021.24,2021.36,2021.47,2021.59,2022.06,2022.29,2022.52,2022.87,2023.11,2023.81,2024.04,2024.27,2024.50,2024.74,2025.02,2025.20,2025.44,2025.67],
  [2016.58,2016.70,2016.85,2017.00,2017.15,2017.30,2017.55,2017.75,2017.95,2018.15,2018.30,2018.45,2018.60,2018.75,2018.90,2019.05,2019.20,2019.50,2019.75,2020.00,2020.20,2020.40,2020.60,2020.80,2021.00,2021.20,2021.40,2021.60,2021.80,2022.00,2022.20,2022.40,2022.60,2022.80,2023.00,2023.20,2023.40,2023.60,2023.80,2024.00,2024.20,2024.40,2024.60,2024.80,2025.00,2025.20,2025.40,2025.60,2025.84],
  [2017.23,2017.51,2018.21,2018.72,2018.90,2019.25,2019.72,2019.95,2020.42,2020.58,2020.77,2021.00,2021.23,2021.46,2021.70,2021.93,2022.16,2022.39,2022.74,2023.04,2023.51,2023.90,2024.14,2024.37,2024.60,2024.83,2025.07,2025.30,2025.53,2025.76,2025.95],
  [2016.5,2016.9,2017.3,2017.8,2018.2,2018.6,2019.2,2019.9,2020.5,2021.0,2021.6,2022.3,2023.0,2023.7,2024.4,2025.2,2025.9],
  [2016.5,2017.0,2017.6,2019.4,2019.8,2020.3,2021.0,2021.8,2022.5,2023.3,2024.0,2024.8,2025.5],
  [2017.8,2018.5,2019.0,2019.5,2020.0,2020.5,2021.0,2021.5,2022.0,2022.5,2023.0,2023.5,2024.0,2024.5,2025.0,2025.5,2025.9],
  [2017.0,2017.8,2018.3,2019.6,2020.2,2021.9,2022.6,2023.5],
  [2017.3,2017.9,2018.5,2019.4,2019.8],
  [2016.81,2016.99,2017.03,2017.62,2018.26,2019.49,2019.77,2023.89,2024.32,2024.80,2025.66,2025.88],
  [2018.12,2018.28,2019.25,2023.55,2023.84],
  [2017.29,2018.38,2018.50,2019.79,2022.62,2023.70],
  [2017.7,2018.3,2025.6],
  [2025.56,2025.60],
  [2024.23,2025.54],
];

// weekly observations at 100%
const PTS_FULL = [
  [2016.58,2017.17,2017.71,2017.99,2018.58,2018.81,2019.05,2019.28,2019.58,2019.91,2020.97,2021.09,2021.86,2021.98,2022.64,2022.99,2023.06,2023.44,2025.27],
  [2016.51,2016.65,2017.22,2017.33,2018.16,2018.44,2018.63,2018.86,2018.98,2019.56,2019.68,2019.80,2020.46,2021.09,2021.21,2021.32,2021.68,2021.96,2022.69,2022.85,2022.97,2023.91,2024.38,2024.45,2025.38,2025.71],
  [2016.70,2016.82,2016.94,2017.05,2017.29,2017.52,2017.64,2018.11,2018.34,2018.58,2018.81,2019.05,2019.52,2019.99,2020.93,2021.04,2022.17,2022.45,2022.69,2022.97,2023.62,2025.74,2025.85],
  [2016.58,2017.00,2017.09,2017.23,2017.35,2017.70,2018.09,2018.26,2018.44,2018.72,2018.84,2019.03,2019.19,2019.42,2019.80,2020.19,2020.36,2020.50,2020.61,2020.78,2020.92,2021.01,2022.01,2022.17,2022.29,2022.52,2022.87,2023.34,2023.62,2024.34,2024.62],
  [2017.04,2017.18,2018.16,2018.74,2020.02,2020.49,2021.30,2022.00,2022.46,2022.93,2023.56,2024.44,2024.79],
  [2016.88,2017.28,2017.39,2017.69,2018.39,2018.56,2018.67,2018.79,2018.90,2019.02,2019.14,2019.53,2020.02,2020.53,2020.65,2020.90,2021.11,2021.35,2021.58,2022.04,2022.21,2022.39,2022.56,2023.04,2023.56,2024.21,2025.58,2025.88],
  [2016.54,2016.70,2016.89,2017.05,2017.17,2017.64,2017.71,2018.58,2018.70,2018.81,2018.98,2019.12,2019.21,2019.35,2019.52,2019.87,2019.99,2020.15,2020.46,2020.81,2021.00,2021.28,2021.51,2021.75,2022.22,2022.50,2022.64,2022.87,2023.74,2024.09,2025.27,2025.50,2025.85],
  [2017.26,2017.69,2018.32,2018.51,2018.67,2018.98,2019.05,2019.14,2019.33,2019.49,2020.08,2021.44,2022.50,2024.02,2024.30,2025.15],
  [2016.94,2021.51,2025.27,2025.55],
  [2017.58,2017.67,2018.05,2018.21,2018.37,2018.56,2025.25],
  [2017.04,2017.16,2017.28,2017.69,2018.21,2018.39,2018.56,2018.86,2018.97,2019.14,2019.32,2019.56,2019.79,2020.53,2020.65,2021.18,2021.30,2021.53,2022.16,2023.70,2025.14,2025.32,2025.49],
  [2016.69,2017.56,2017.79,2018.02,2019.60,2019.95,2020.07,2020.30,2021.11,2022.56,2023.60,2024.14],
  [2016.72,2017.69,2020.39,2020.92,2021.04,2022.40,2022.45,2023.46,2023.58,2023.86,2025.08,2025.45,2025.74],
  [2016.79,2017.57,2018.58,2018.67,2018.74,2019.21,2019.45,2022.03,2022.66,2023.72,2024.30,2025.24,2025.67],
  [2017.41,2019.03,2019.31,2019.87,2019.95,2020.55,2021.98,2022.80,2023.95,2024.18,2024.38,2024.42,2024.82,2025.12,2025.55],
  [2018.44,2019.96,2021.82,2022.06,2022.36,2022.64,2022.99,2024.04,2024.32,2025.79,2025.95],
  [2016.76,2017.18,2017.65,2017.74,2018.00,2018.28,2019.21,2021.18,2021.65,2022.00,2022.63,2023.93,2024.02,2025.02,2025.37],
  [2016.97,2017.11,2017.32,2017.56,2018.49,2018.95,2019.09,2019.25,2019.37,2019.49,2019.65,2019.79,2020.07,2020.30,2020.49,2020.88,2021.86,2022.11,2022.21,2022.51,2024.49,2025.11,2025.18,2025.60,2025.81],
  [2017.2,2018.1,2019.0],
  [2017.9,2018.2,2018.5,2018.7,2018.9,2025.9],
  [2019.2,2021.2,2021.5,2022.9,2023.2,2024.0],
  [2017.6,2019.2,2021.1,2021.7],
  [2018.7],
  [2017.00,2017.57,2024.71],
  [2018.28,2019.21,2023.63],
  [2019.77,2022.54,2022.83],
  [2017.5,2025.2],
  [2025.97],
  [2025.86],
];

// other weekly observations [year, rate %]
const PTS_OTHER = [
  [[2016.58,75],[2017.17,75],[2019.87,75],[2020.10,75],[2016.98,67],[2018.74,60],[2021.35,60],[2016.82,50],[2016.94,50],[2018.06,50],[2018.41,50],[2019.05,50],[2020.34,50],[2020.46,50],[2021.18,50],[2021.86,50],[2022.17,50],[2022.45,50],[2022.80,50],[2023.74,50],[2024.00,50],[2025.31,50],[2018.98,40],[2022.33,40],[2018.11,33],[2018.23,33],[2020.46,33],[2020.57,33],[2021.11,33],[2022.10,33],[2023.67,33],[2023.98,33],[2024.63,33],[2018.30,25],[2019.40,25],[2020.81,25],[2021.32,25],[2022.10,25],[2022.22,20]],
  [[2022.78,85],[2019.14,80],[2018.37,75],[2018.39,71],[2017.33,67],[2017.49,67],[2018.33,67],[2018.44,67],[2019.47,67],[2019.56,67],[2020.15,67],[2021.16,67],[2021.35,67],[2025.24,67],[2025.85,67],[2016.98,50],[2017.17,50],[2017.33,50],[2018.16,50],[2018.44,50],[2019.21,50],[2020.78,50],[2021.02,50],[2021.32,50],[2023.67,50],[2024.61,50],[2025.71,50],[2025.28,40],[2025.52,40],[2025.71,40],[2018.33,33],[2017.33,30],[2019.56,30],[2022.38,25],[2024.92,25],[2018.40,20],[2019.76,14]],
  [[2016.58,67],[2016.82,67],[2018.81,67],[2016.63,60],[2016.77,50],[2017.05,50],[2017.29,50],[2017.64,50],[2019.05,50],[2019.52,50],[2019.87,50],[2020.10,50],[2020.57,50],[2021.28,50],[2022.10,50],[2023.62,50],[2023.98,50],[2024.45,50],[2017.05,33],[2019.40,33],[2020.46,33],[2021.16,33],[2023.98,33],[2016.77,25],[2017.17,25],[2024.45,25],[2016.77,20],[2023.39,17]],
  [[2017.00,75],[2017.00,67],[2019.14,67],[2022.80,80],[2016.93,50],[2017.09,50],[2017.23,50],[2017.40,50],[2018.09,50],[2018.26,50],[2018.79,50],[2019.19,50],[2019.42,50],[2019.66,50],[2019.84,50],[2020.03,50],[2020.31,50],[2020.50,50],[2020.78,50],[2021.01,50],[2021.24,50],[2021.82,50],[2022.29,50],[2023.53,50],[2024.27,50],[2024.39,50],[2019.42,40],[2021.01,33],[2021.47,33],[2024.62,33],[2018.56,25],[2022.36,25],[2023.46,25]],
  [[2017.42,67],[2018.16,67],[2019.79,67],[2021.42,67],[2021.77,67],[2016.58,50],[2017.16,50],[2018.46,50],[2019.23,50],[2021.37,50],[2022.00,50],[2023.44,50],[2023.74,50],[2019.60,40],[2021.37,40],[2021.60,40],[2019.37,33],[2019.79,33],[2021.42,33],[2021.70,33],[2022.04,33],[2017.65,25],[2022.53,25],[2019.25,20]],
  [[2019.16,86],[2018.21,67],[2019.19,67],[2019.79,67],[2020.46,67],[2016.53,50],[2017.23,50],[2017.74,50],[2018.16,50],[2018.79,50],[2020.42,50],[2021.53,50],[2022.11,50],[2025.60,50],[2019.02,33],[2019.37,33],[2020.42,25],[2020.53,25],[2025.88,20]],
  [[2017.40,75],[2018.46,75],[2021.21,86],[2021.23,80],[2020.50,67],[2022.50,60],[2018.88,50],[2019.28,50],[2022.45,50],[2023.34,50],[2023.62,50],[2024.52,50],[2025.27,50],[2025.62,50],[2018.98,33],[2025.74,33],[2019.99,25]],
  [[2021.79,67],[2017.69,50],[2020.03,50],[2020.46,50],[2021.51,50],[2022.50,50]],
  [[2023.27,33]],
  [[2018.33,50],[2018.49,50],[2021.01,50],[2024.85,50],[2017.21,33]],
  [[2017.23,50],[2018.00,50],[2019.67,50],[2021.14,50],[2025.49,50],[2025.60,50],[2018.32,25],[2023.46,33]],
  [[2020.30,67],[2023.04,67]],
  [[2018.86,67],[2024.80,67],[2023.32,50],[2022.26,33],[2023.08,33],[2018.30,25],[2025.92,25]],
  [[2018.74,67],[2019.61,50],[2022.15,50],[2023.83,50],[2024.96,50]],
  [[2023.95,67],[2019.37,50],[2020.06,50],[2022.24,50]],
  [[2025.39,67],[2019.61,50],[2021.05,50],[2023.39,50],[2025.44,50],[2025.44,33]],
  [[2018.16,67],[2019.86,60],[2021.65,50],[2022.58,50]],
  [[2020.53,75],[2022.11,67],[2022.51,67],[2017.51,50],[2020.65,50],[2021.00,50],[2022.51,50],[2025.42,50],[2018.90,33]],
  [[2017.3,50]],
  [[2018.4,67]],
  [[2021.4,50],[2022.4,50],[2025.9,50]],
  [[2019.4,50]],
  [[2016.9,50]],
  [[2017.74,75],[2017.76,33],[2018.28,50]],
  [],
  [],
  [],
  [[2025.62,50]],
  [[2024.31,50],[2025.09,50]],
];

// ---------------- STYLE / LAYOUT ----------------
const FONT = '"Liberation Sans", Arial, Helvetica, sans-serif';
const PAGE_W = 4358;
const PAGE_H = 2540;
const COL_LEFT = [135, 855, 1566, 2285, 2997, 3716];
const ROW_TOP = [160, 627, 1093, 1559, 2027];
const PANEL_W = 622;
const PANEL_H = 400;
const STRIP_H = 47;
const AXIS_W = 100;
const LINE_COLOR = "#641A1E";
const RIBBON_COLOR = "rgba(139, 40, 45, 0.2)";
const EVENT_COLORS = ["#EFA36E", "#8DBF8D"];

const fmtPct = (v: number) => (v < 0 ? "\u2212" + Math.abs(v) : String(v)) + "%";
const toXY = (arr: number[][]) => arr.map(([x, y]) => ({ x, y }));

const panelDeco = {
  id: "panelDeco",
  beforeDatasetsDraw(chart: any) {
    const { ctx, chartArea: a, scales } = chart;
    const x = scales.x;
    ctx.save();
    ctx.beginPath();
    ctx.rect(a.left, a.top, a.right - a.left, a.bottom - a.top);
    ctx.clip();
    EVENT_LINES.forEach((v, i) => {
      const px = x.getPixelForValue(v);
      ctx.strokeStyle = EVENT_COLORS[i];
      ctx.lineWidth = 3;
      ctx.setLineDash([16, 10]);
      ctx.beginPath();
      ctx.moveTo(px, a.top);
      ctx.lineTo(px, a.bottom);
      ctx.stroke();
    });
    ctx.restore();
  },
  afterDraw(chart: any) {
    const { ctx, chartArea: a } = chart;
    const title = chart.options.plugins.panelDeco.title;
    ctx.save();
    ctx.fillStyle = "#F0F0F0";
    ctx.fillRect(a.left, a.top - STRIP_H, a.right - a.left, STRIP_H);
    ctx.fillStyle = "#1A1A1A";
    ctx.font = `bold 24px ${FONT}`;
    ctx.textAlign = "center";
    ctx.textBaseline = "middle";
    ctx.fillText(title, (a.left + a.right) / 2, a.top - STRIP_H / 2 + 1);
    ctx.strokeStyle = "#333333";
    ctx.lineWidth = 2;
    ctx.setLineDash([]);
    ctx.strokeRect(a.left, a.top, a.right - a.left, a.bottom - a.top);
    ctx.restore();
  },
};

function Panel({ idx }: { idx: number }) {
  const ref = useRef<HTMLCanvasElement | null>(null);
  const row = Math.floor(idx / 6);
  const col = idx % 6;
  const hasX = row === 4 || idx === 23;
  const bottomExtra = hasX ? 95 : 16;
  const width = AXIS_W + PANEL_W + 2;
  const height = STRIP_H + PANEL_H + bottomExtra;

  useEffect(() => {
    if (!ref.current) return;
    const pts = [
      ...PTS_ZERO[idx].map((x) => ({ x, y: 0 })),
      ...PTS_FULL[idx].map((x) => ({ x, y: 100 })),
      ...toXY(PTS_OTHER[idx]),
    ];
    const chart = new Chart(ref.current, {
      type: "line",
      data: {
        datasets: [
          {
            label: "fit",
            data: toXY(FIT[idx]),
            borderColor: LINE_COLOR,
            borderWidth: 5.5,
            pointRadius: 0,
            cubicInterpolationMode: "monotone",
            fill: false,
            order: 0,
          },
          {
            label: "upper",
            data: toXY(UPPER[idx]),
            borderColor: "rgba(0,0,0,0)",
            borderWidth: 1,
            pointRadius: 0,
            cubicInterpolationMode: "monotone",
            fill: "+1",
            backgroundColor: RIBBON_COLOR,
            order: 1,
          },
          {
            label: "lower",
            data: toXY(LOWER[idx]),
            borderColor: "rgba(0,0,0,0)",
            borderWidth: 1,
            pointRadius: 0,
            cubicInterpolationMode: "monotone",
            fill: false,
            order: 2,
          },
          {
            label: "obs",
            data: pts,
            showLine: false,
            pointRadius: 3.6,
            pointBackgroundColor: "rgba(120,120,120,0.28)",
            pointBorderColor: "rgba(100,100,100,0.3)",
            pointBorderWidth: 1,
            order: 3,
          },
        ],
      } as any,
      options: {
        animation: false,
        responsive: false,
        events: [],
        layout: { padding: { top: STRIP_H, right: 2, bottom: hasX ? 0 : 16, left: 0 } },
        plugins: {
          legend: { display: false },
          tooltip: { enabled: false },
          panelDeco: { title: DEPARTMENTS[idx] },
        } as any,
        scales: {
          x: {
            type: "linear",
            min: X_RANGE[0],
            max: X_RANGE[1],
            afterBuildTicks: (s: any) => {
              s.ticks = X_TICKS.map((v) => ({ value: v }));
            },
            afterFit: (s: any) => {
              s.height = hasX ? 95 : 0;
            },
            grid: {
              color: "#EBEBEB",
              lineWidth: 2,
              drawTicks: hasX,
              tickLength: 9,
              tickColor: "#333333",
              tickWidth: 2,
            },
            border: { display: false },
            ticks: {
              display: hasX,
              autoSkip: false,
              maxRotation: 45,
              minRotation: 45,
              padding: 4,
              color: "#4D4D4D",
              font: { family: FONT, size: 21 },
              callback: (v: any) => String(v),
            },
          },
          y: {
            type: "linear",
            min: Y_RANGE[idx][0],
            max: Y_RANGE[idx][1],
            afterBuildTicks: (s: any) => {
              s.ticks = Y_TICKS[idx].map((v) => ({ value: v }));
            },
            afterFit: (s: any) => {
              s.width = AXIS_W;
            },
            grid: {
              color: "#E6E6E6",
              lineWidth: 3,
              drawTicks: true,
              tickLength: 9,
              tickColor: "#333333",
              tickWidth: 2,
            },
            border: { display: false },
            ticks: {
              padding: 6,
              color: "#4D4D4D",
              font: { family: FONT, size: 21 },
              callback: (v: any) => fmtPct(Number(v)),
            },
          },
        },
      } as any,
      plugins: [panelDeco],
    });
    return () => chart.destroy();
  }, [idx]);

  return (
    <div
      style={{
        position: "absolute",
        left: COL_LEFT[col] - AXIS_W,
        top: ROW_TOP[row] - STRIP_H,
        width,
        height,
      }}
    >
      <canvas ref={ref} width={width} height={height} style={{ width, height, display: "block" }} />
    </div>
  );
}

function fitScale() {
  if (typeof window === "undefined") return [1, 1];
  const sx = window.innerWidth / PAGE_W;
  const sy = window.innerHeight / PAGE_H;
  return [sx > 0 && isFinite(sx) ? sx : 1, sy > 0 && isFinite(sy) ? sy : 1];
}

export default function App() {
  const [scale, setScale] = useState(fitScale());

  useEffect(() => {
    document.documentElement.style.overflow = "hidden";
    document.body.style.overflow = "hidden";
    document.body.style.margin = "0";
    const onResize = () => setScale(fitScale());
    onResize();
    window.addEventListener("resize", onResize);
    return () => window.removeEventListener("resize", onResize);
  }, []);

  return (
    <div
      style={{
        position: "fixed",
        left: 0,
        top: 0,
        width: PAGE_W,
        height: PAGE_H,
        background: "#FFFFFF",
        overflow: "hidden",
        fontFamily: FONT,
        transform: `scale(${scale[0]}, ${scale[1]})`,
        transformOrigin: "0 0",
      }}
    >
      <div
        style={{
          position: "absolute",
          left: 134,
          top: 13,
          fontSize: 39,
          lineHeight: "39px",
          fontWeight: "bold",
          color: "#000000",
          whiteSpace: "nowrap",
        }}
      >
        Weekly MRSA Rate Trends by Department (LOESS Smoothing)
      </div>
      <div
        style={{
          position: "absolute",
          left: 134,
          top: 66,
          fontSize: 30,
          lineHeight: "30px",
          color: "#595959",
          whiteSpace: "nowrap",
        }}
      >
        29 departments with ≥30 isolates; LOESS span = 0.3
      </div>
      <div
        style={{
          position: "absolute",
          left: 36,
          top: 1285,
          transform: "translate(-50%, -50%) rotate(-90deg)",
          fontSize: 30,
          lineHeight: "30px",
          fontWeight: "bold",
          color: "#000000",
          whiteSpace: "nowrap",
        }}
      >
        MRSA Rate (%)
      </div>
      <div
        style={{
          position: "absolute",
          left: 2237,
          top: 2500,
          transform: "translateX(-50%)",
          fontSize: 30,
          lineHeight: "30px",
          fontWeight: "bold",
          color: "#000000",
          whiteSpace: "nowrap",
        }}
      >
        Year
      </div>
      {DEPARTMENTS.map((_, i) => (
        <Panel key={i} idx={i} />
      ))}
    </div>
  );
}
